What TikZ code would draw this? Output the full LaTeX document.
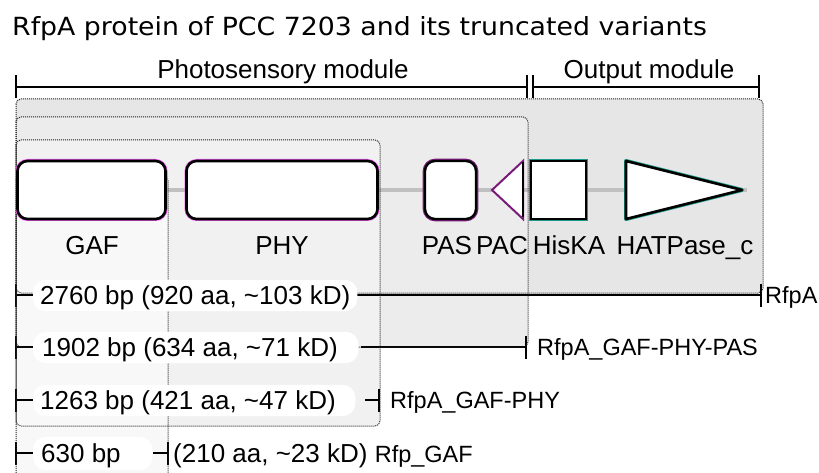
\documentclass[tikz,border=0pt]{standalone}
\usepackage{fontspec}
\setmainfont{Liberation Sans}
\newfontfamily\titlefont[FakeStretch=1.07]{DejaVu Sans}
\definecolor{bxa}{HTML}{E6E6E6}
\definecolor{bxb}{HTML}{ECECEC}
\definecolor{bxc}{HTML}{F1F1F1}
\definecolor{bxd}{HTML}{F8F8F8}
\definecolor{bbone}{HTML}{C0C0C0}
\definecolor{glowM}{HTML}{EE55EE}
\definecolor{purp}{HTML}{7A1A7A}
\definecolor{tealC}{HTML}{1A9A8A}
\definecolor{dotC}{HTML}{222222}
\newcommand{\rowfnt}{\fontsize{26}{30}\selectfont}
\newcommand{\rightfnt}{\fontsize{23.5}{28}\selectfont}
\begin{document}
\begin{tikzpicture}[x=1pt,y=-1pt,
  modfill/.style={fill=#1, draw=none, rounded corners=5pt},
  modedge/.style={draw=dotC, line width=1pt, dash pattern=on 1pt off 1pt, rounded corners=5pt},
  backbone/.style={draw=bbone, line width=4.5pt},
  rowline/.style={draw=black, line width=2pt},
  tickmark/.style={draw=black, line width=2.4pt},
  bracketline/.style={draw=black, line width=2pt},
  pill/.style={fill=white, draw=none, rounded corners=13pt, inner sep=0pt, minimum height=31pt},
  rowtxt/.style={font=\rowfnt, inner sep=0pt, anchor=base west},
  righttxt/.style={font=\rightfnt, inner sep=0pt, anchor=base west},
  domtxt/.style={font=\rowfnt, inner sep=0pt, anchor=base},
  modtxt/.style={font=\rowfnt, inner sep=0pt, anchor=base},
  gafbox/.style={draw=black, fill=white, line width=2.6pt, rounded corners=10pt,
     inner sep=0pt, minimum height=58pt, preaction={draw=glowM, line width=4pt}},
  pasbox/.style={draw=black, fill=white, line width=2.4pt, rounded corners=10pt,
     inner sep=0pt, minimum height=58pt, preaction={draw=purp, line width=4.6pt}},
  hisbox/.style={draw=black, fill=white, line width=2.6pt,
     inner sep=0pt, minimum height=58pt, preaction={draw=tealC, line width=4pt}},
]
\useasboundingbox (0,0) rectangle (819,473);

% title
\node[font=\titlefont\fontsize{25}{30}\selectfont, inner sep=0pt, anchor=base west] (title) at (12,36) {RfpA protein of PCC 7203 and its truncated variants};

% module brackets
\coordinate (psL) at (16,87); \coordinate (psR) at (527,87);
\coordinate (omL) at (533,87); \coordinate (omR) at (759,87);
\draw[bracketline] (psL) -- (psR);
\draw[bracketline] (omL) -- (omR);
\foreach \c in {psL,psR,omL,omR}{\draw[tickmark] ([yshift=11.5pt]\c) -- ([yshift=-11pt]\c);}
\node[modtxt] (pslab) at (283,79) {Photosensory module};
\node[modtxt] (omlab) at (649,79) {Output module};

% module boxes (fills)
\fill[modfill=bxa] (16,99) rectangle (763,293);
\fill[modfill=bxb] (16,117) rectangle (528,347);
\fill[modfill=bxc] (16,140) rectangle (380,426);
\begin{scope}
\clip (0,0) rectangle (819,473);
\fill[modfill=bxd] (16,175) rectangle (168,490);
\end{scope}

% backbone
\coordinate (bbL) at (16,190); \coordinate (bbR) at (747,190);
\draw[backbone] (bbL) -- (bbR);

% rows
\coordinate (r1s) at (16,295); \coordinate (r1e) at (761,295);
\coordinate (r2s) at (16,347); \coordinate (r2m) at (361,347); \coordinate (r2e) at (526,347);
\coordinate (r3s) at (16,400); \coordinate (r3m) at (365,400); \coordinate (r3e) at (379,400);
\coordinate (r4s) at (16,453); \coordinate (r4m) at (153,453); \coordinate (r4e) at (168,453);

\node[pill, minimum width=324pt, anchor=west] (p1) at (33,295.5) {};
\node[pill, minimum width=325pt, anchor=west] (p2) at (33,347.5) {};
\node[pill, minimum width=322pt, anchor=west] (p3) at (33,400.5) {};
\node[pill, minimum width=119pt, minimum height=33pt, anchor=west] (p4) at (33,453.5) {};

\draw[rowline] (r1s) -- (r1e);
\draw[rowline] (r2s) -- (r2s -| p2.west);
\draw[rowline] (r2m) -- (r2e);
\draw[rowline] (r3s) -- (r3s -| p3.west);
\draw[rowline] (r3m) -- (r3e);
\draw[rowline] (r4s) -- (r4s -| p4.west);
\draw[rowline] (r4m) -- (r4e);
\foreach \c in {r1s,r1e,r2s,r2e,r3s,r3e,r4s,r4e}{\draw[tickmark] ([yshift=11.5pt]\c) -- ([yshift=-11.5pt]\c);}

% module box edges (dotted)
\draw[modedge] (16,99) rectangle (763,293);
\draw[modedge] (16,117) rectangle (528,347);
\draw[modedge] (16,140) rectangle (380,426);
\begin{scope}
\clip (0,0) rectangle (819,473);
\draw[modedge] (16,175) rectangle (168,490);
\end{scope}

% pills redrawn over box edges
\fill[white, rounded corners=13pt] (p1.south west) rectangle (p1.north east);
\fill[white, rounded corners=13pt] (p2.south west) rectangle (p2.north east);
\fill[white, rounded corners=13pt] (p3.south west) rectangle (p3.north east);
\fill[white, rounded corners=13pt] (p4.south west) rectangle (p4.north east);

% domains
\node[gafbox, minimum width=148pt] (gaf) at (91.5,190) {};
\node[gafbox, minimum width=191pt] (phy) at (282,190) {};
\node[pasbox, minimum width=51pt] (pas) at (450.5,190) {};
\coordinate (pacT) at (492,190); \coordinate (pacA) at (523,161); \coordinate (pacB) at (523,219);
\draw[draw=purp, fill=white, line width=2pt, line join=miter] (pacT) -- (pacA) -- (pacB) -- cycle;
\draw[black, line width=1.2pt] ([yshift=-1.5pt]pacA) -- ([yshift=1.5pt]pacB);
\node[hisbox, minimum width=55pt] (his) at (558.5,190) {};
\coordinate (hatA) at (626,161); \coordinate (hatB) at (626,219); \coordinate (hatT) at (742,190);
\draw[draw=tealC, line width=4pt, line join=round] (hatA) -- (hatT) -- (hatB) -- cycle;
\draw[draw=black, fill=white, line width=2.6pt, line join=round] (hatA) -- (hatT) -- (hatB) -- cycle;

% domain labels
\node[domtxt] (lgaf) at (92,254) {GAF};
\node[domtxt] (lphy) at (282,254) {PHY};
\node[domtxt] (lpas) at (447,254) {PAS};
\node[domtxt] (lpac) at (502,254) {PAC};
\node[domtxt] (lhis) at (569,254) {HisKA};
\node[domtxt] (lhat) at (685,254) {HATPase\_c};

% row labels
\node[rowtxt] (t1) at (40,304) {2760 bp (920 aa, \textasciitilde103 kD)};
\node[rowtxt] (t2) at (42,356) {1902 bp (634 aa, \textasciitilde71 kD)};
\node[rowtxt] (t3) at (40,409) {1263 bp (421 aa, \textasciitilde47 kD)};
\node[rowtxt] (t4) at (41,462) {630 bp};
\node[righttxt] (n1) at (765,303.5) {RfpA};
\node[righttxt] (n2) at (537,355.5) {RfpA\_GAF-PHY-PAS};
\node[righttxt] (n3) at (390,408.5) {RfpA\_GAF-PHY};
\node[rowtxt] (n4) at (173,462) {(210 aa, \textasciitilde23 kD) {\rightfnt Rfp\_GAF}};
\end{tikzpicture}
\end{document}
